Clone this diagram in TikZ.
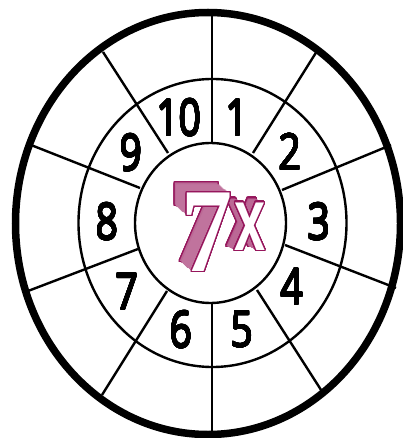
\documentclass[tikz,border=0pt]{standalone}
\usepackage{fontspec}
\usepackage{graphicx}
\usepackage{contour}
\setmainfont{Open Sans}
\newfontfamily\sevenfont{Liberation Serif}
\newfontfamily\xfont{Liberation Sans}
\definecolor{mag}{RGB}{150,22,92}
\contournumber{32}
\tikzset{
  ring/.style={draw=black,line width=2.4pt},
  outerring/.style={draw=black,line width=7.5pt},
  spoke/.style={draw=black,line width=2.4pt},
  num/.style={inner sep=0pt,font=\fontsize{50}{50}\selectfont},
  art/.style={inner sep=0pt},
}
\newcommand{\dig}[1]{\contourlength{0.7pt}\contour{black}{\scalebox{0.78}[1]{#1}}}
\newcommand{\sevenglyph}{\scalebox{0.85}[1]{\sevenfont\bfseries\fontsize{120}{120}\selectfont 7}}
\newcommand{\xglyph}{\scalebox{0.62}[1]{\xfont\bfseries\fontsize{90}{90}\selectfont x}}
\begin{document}
\begin{tikzpicture}[x=1pt,y=-1pt]
\useasboundingbox (0,0) rectangle (402,438);
\fill[white] (0,0) rectangle (402,438);
% rings
\draw[outerring] (208,223.5) ellipse [x radius=192.5, y radius=211];
\draw[ring] (212.5,223) ellipse [x radius=134, y radius=144];
\draw[ring] (210.5,223) ellipse [x radius=75.5, y radius=80];
% spokes
\foreach \a/\b/\c/\d in {212/143/212/15, 253/153/317/51, 282/190/391/145,
  285/245/396/288, 257/290/323/393, 212/303/212/431, 167/291/102/395,
  138/249/28/291, 140/188/31/145, 168/153/103/52}{
  \coordinate (s) at (\a,\b);
  \coordinate (e) at (\c,\d);
  \draw[spoke] (s) -- (e);
}
% numbers
\node[num] (n1) at (237,118) {\dig{1}};
\node[num] (n2) at (290,152) {\dig{2}};
\node[num] (n3) at (319,222) {\dig{3}};
\node[num] (n4) at (292,287) {\dig{4}};
\node[num] (n5) at (242,330) {\dig{5}};
\node[num] (n6) at (181,330) {\dig{6}};
\node[num] (n7) at (127,292) {\dig{7}};
\node[num] (n8) at (107,222) {\dig{8}};
\node[num] (n9) at (131,153) {\dig{9}};
\node[num] (n10) at (179,118) {\dig{10}};
% 7x extrusion
\contourlength{1.3pt}
\node[art] (sevenback) at (195,223) {\color{mag!65}\contour{mag}{\sevenglyph}};
\foreach \k in {1,...,11}{
  \node[art] at ({195+\k},{223+0.83*\k}) {\color{mag!60}\sevenglyph};
}
\node[art] (xback) at (242,223) {\color{mag!70}\contour{mag}{\xglyph}};
\foreach \k in {1,...,7}{
  \node[art] at ({242+\k},{223+0.5*\k}) {\color{mag!65}\xglyph};
}
% front faces
\node[art] (seven) at (207,233) {\color{white}\contour{mag}{\sevenglyph}};
\node[art] (xx) at (250,227) {\color{white}\contour{mag}{\xglyph}};
\end{tikzpicture}
\end{document}
